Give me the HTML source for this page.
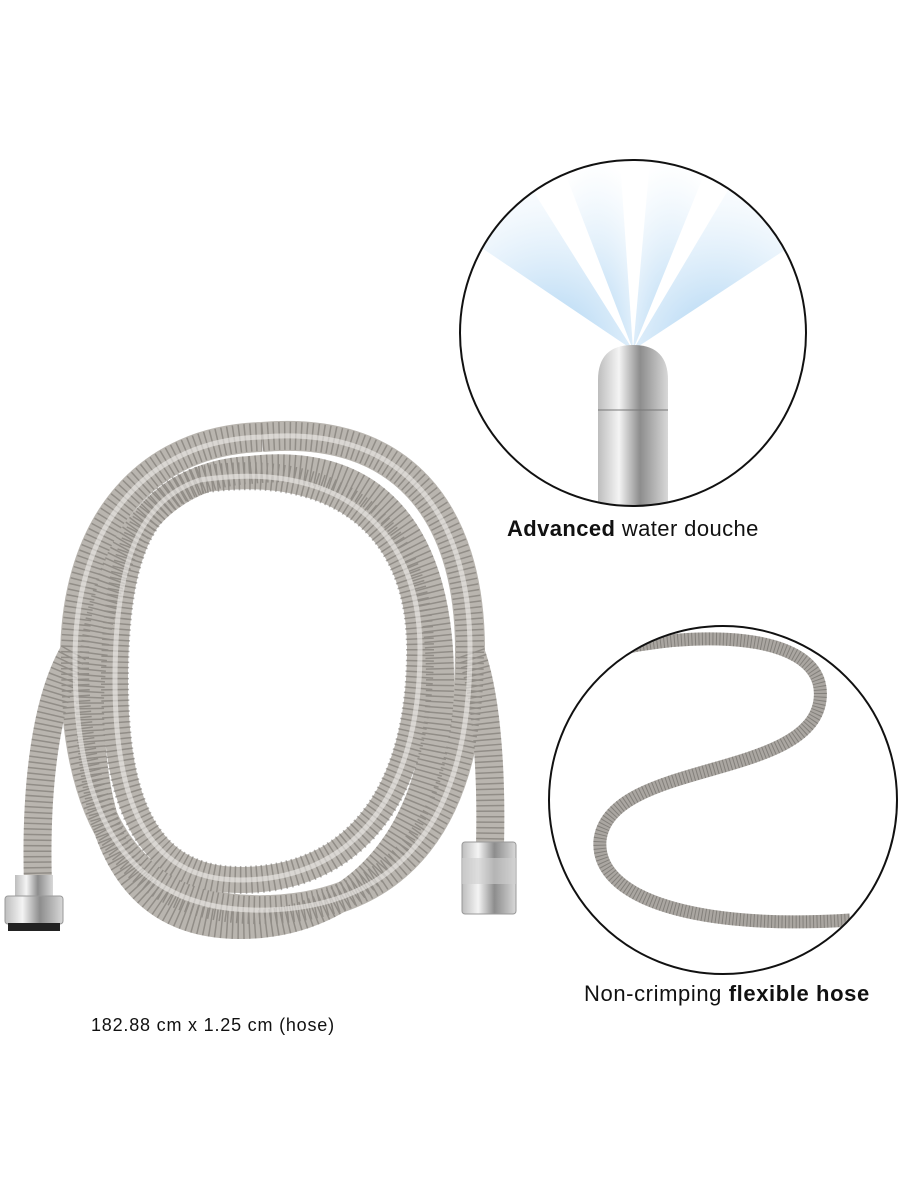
<!DOCTYPE html>
<html><head><meta charset="utf-8"><style>
html,body{margin:0;padding:0;background:#fff;}
body{width:901px;height:1200px;position:relative;overflow:hidden;font-family:"Liberation Sans",sans-serif;color:#111;}
.t{position:absolute;white-space:nowrap;}
</style></head><body>
<svg width="901" height="1200" style="position:absolute;left:0;top:0">
<defs>
<linearGradient id="chrome" x1="0" x2="1">
<stop offset="0" stop-color="#bdbdbd"/><stop offset=".3" stop-color="#f4f4f4"/><stop offset=".6" stop-color="#8d8d8d"/><stop offset="1" stop-color="#d8d8d8"/></linearGradient>
<radialGradient id="spray" cx=".5" cy="1" r="1">
<stop offset="0" stop-color="#9ccbf0" stop-opacity=".9"/><stop offset="1" stop-color="#cfe6f8" stop-opacity="0"/></radialGradient>
<clipPath id="c1"><circle cx="633" cy="333" r="173"/></clipPath>
<clipPath id="c2"><circle cx="723" cy="800" r="173"/></clipPath>
</defs>
<g fill="none" stroke-linecap="butt">
<g stroke="#b9b5af">
<path d="M262 437 C400 425 470 510 470 650 C470 820 400 905 270 910 C130 915 75 820 75 660 C75 520 150 440 262 437" stroke-width="30"/>
<path d="M250 470 C380 455 440 540 440 680 C440 830 360 925 240 925 C120 925 90 820 90 700 C95 560 150 475 250 470" stroke-width="28"/>
<path d="M200 480 C330 460 420 520 420 650 C420 800 350 880 240 880 C140 880 115 790 115 680 C115 560 140 500 200 480" stroke-width="26"/>
<path d="M38 885 C35 790 45 700 75 650" stroke-width="28"/>
<path d="M490 845 C492 760 485 690 470 650" stroke-width="28"/>
</g>
<g stroke="#6a6661" stroke-width="28" stroke-dasharray="1.5 4" opacity=".5">
<path d="M262 437 C400 425 470 510 470 650 C470 820 400 905 270 910 C130 915 75 820 75 660 C75 520 150 440 262 437"/>
<path d="M250 470 C380 455 440 540 440 680 C440 830 360 925 240 925 C120 925 90 820 90 700 C95 560 150 475 250 470"/>
<path d="M200 480 C330 460 420 520 420 650 C420 800 350 880 240 880 C140 880 115 790 115 680 C115 560 140 500 200 480"/>
<path d="M38 885 C35 790 45 700 75 650"/>
<path d="M490 845 C492 760 485 690 470 650"/>
</g>
<g stroke="#f0eeeb" stroke-width="5" opacity=".6">
<path d="M262 437 C400 425 470 510 470 650 C470 820 400 905 270 910 C130 915 75 820 75 660 C75 520 150 440 262 437"/>
<path d="M200 480 C330 460 420 520 420 650 C420 800 350 880 240 880 C140 880 115 790 115 680 C115 560 140 500 200 480"/>
</g>
</g>
<rect x="15" y="875" width="38" height="24" fill="url(#chrome)"/>
<rect x="5" y="896" width="58" height="28" rx="3" fill="url(#chrome)" stroke="#999"/>
<rect x="8" y="923" width="52" height="8" fill="#222"/>
<rect x="462" y="842" width="54" height="72" rx="3" fill="url(#chrome)" stroke="#999"/>
<rect x="462" y="858" width="54" height="26" fill="#cfcfcf" opacity=".6"/>
<g clip-path="url(#c1)">
<path d="M633 350 L470 240 L520 170 Z" fill="url(#spray)"/>
<path d="M633 350 L560 160 L620 160 Z" fill="url(#spray)"/>
<path d="M633 350 L650 160 L710 160 Z" fill="url(#spray)"/>
<path d="M633 350 L740 170 L800 240 Z" fill="url(#spray)"/>
<path d="M598 380 Q598 345 633 345 Q668 345 668 380 L668 520 L598 520 Z" fill="url(#chrome)"/>
<line x1="598" y1="410" x2="668" y2="410" stroke="#777"/>
</g>
<circle cx="633" cy="333" r="173" fill="none" stroke="#111" stroke-width="2"/>
<g clip-path="url(#c2)" fill="none">
<path d="M565 665 C650 630 830 620 820 700 C810 780 610 760 600 840 C595 900 700 930 850 920" stroke="#aaa6a1" stroke-width="13"/>
<path d="M565 665 C650 630 830 620 820 700 C810 780 610 760 600 840 C595 900 700 930 850 920" stroke="#55524e" stroke-width="13" stroke-dasharray="1 2.5" opacity=".45"/>
</g>
<circle cx="723" cy="800" r="174" fill="none" stroke="#111" stroke-width="2"/>
</svg>
<div class="t" style="left:507px;top:516px;font-size:22px;letter-spacing:0.4px"><b>Advanced</b> water douche</div>
<div class="t" style="left:584px;top:981px;font-size:22px;letter-spacing:0.6px">Non-crimping <b>flexible hose</b></div>
<div class="t" style="left:91px;top:1015px;font-size:18px;letter-spacing:0.8px">182.88 cm x 1.25 cm (hose)</div>
</body></html>
